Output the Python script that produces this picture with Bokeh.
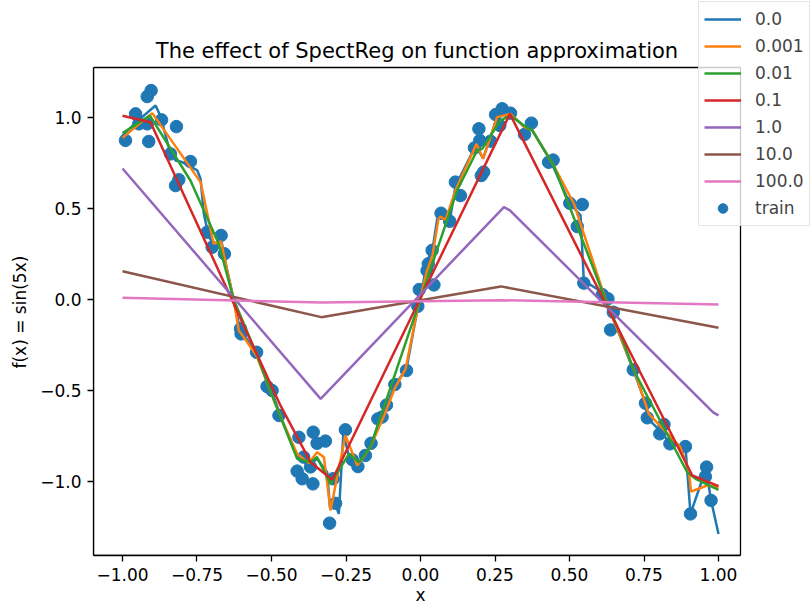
from bokeh.plotting import figure
from bokeh.models import Legend, LegendItem, FixedTicker, Range1d, BoxAnnotation, Label, Title
from bokeh.embed import file_html
from bokeh.resources import INLINE

# ---- data ----
train_x = [-0.99, -0.956, -0.945, -0.917, -0.917, -0.904, -0.912, -0.869, -0.839, -0.819,
           -0.811, -0.822, -0.772, -0.716, -0.699, -0.669, -0.658, -0.604, -0.602, -0.55,
           -0.515, -0.498, -0.475, -0.414, -0.408, -0.397, -0.392, -0.369, -0.361, -0.36,
           -0.347, -0.319, -0.305, -0.285, -0.293, -0.252, -0.229, -0.21, -0.185, -0.166,
           -0.143, -0.129, -0.114, -0.086, -0.047, -0.009, -0.004, 0.022, 0.026, 0.039,
           0.045, 0.069, 0.098, 0.117, 0.134, 0.181, 0.196, 0.199, 0.204, 0.212,
           0.235, 0.252, 0.266, 0.274, 0.302, 0.349, 0.372, 0.43, 0.445, 0.501,
           0.526, 0.543, 0.548, 0.61, 0.629, 0.638, 0.647, 0.714, 0.755, 0.761,
           0.803, 0.817, 0.837, 0.889, 0.906, 0.956, 0.96, 0.975]
train_y = [0.874, 1.02, 0.965, 0.965, 1.115, 1.148, 0.868, 0.987, 0.80, 0.95,
           0.658, 0.626, 0.758, 0.37, 0.287, 0.352, 0.251, -0.16, -0.189, -0.29,
           -0.478, -0.50, -0.637, -0.943, -0.757, -0.985, -0.866, -0.92, -1.013, -0.729,
           -0.79, -0.778, -1.229, -1.12, -0.985, -0.716, -0.88, -0.918, -0.857, -0.79,
           -0.656, -0.646, -0.58, -0.467, -0.39, -0.037, 0.055, 0.159, 0.196, 0.27,
           0.08, 0.474, 0.43, 0.645, 0.571, 0.833, 0.938, 0.874, 0.681, 0.70,
           0.87, 1.016, 0.956, 1.048, 1.024, 0.907, 0.969, 0.754, 0.766, 0.529,
           0.401, 0.522, 0.09, 0.027, 0.004, -0.167, -0.07, -0.386, -0.57, -0.65,
           -0.738, -0.687, -0.793, -0.808, -1.178, -0.973, -0.921, -1.104]

reg0_x = [-1.0, -0.95, -0.889, -0.872, -0.845, -0.822, -0.80, -0.749, -0.738, -0.727,
          -0.71, -0.69, -0.669, -0.65, -0.627, -0.605, -0.59, -0.55, -0.50, -0.464,
          -0.414, -0.375, -0.347, -0.313, -0.304, -0.291, -0.274, -0.259, -0.235, -0.212,
          -0.19, -0.162, -0.134, -0.112, -0.086, -0.047, -0.009, 0.006, 0.022, 0.04,
          0.056, 0.067, 0.084, 0.098, 0.117, 0.185, 0.21, 0.257, 0.29, 0.302,
          0.347, 0.375, 0.436, 0.50, 0.537, 0.548, 0.61, 0.638, 0.649, 0.714,
          0.755, 0.761, 0.803, 0.837, 0.889, 0.906, 0.958, 0.975, 1.0]
reg0_y = [0.90, 0.98, 1.066, 1.005, 0.837, 0.764, 0.755, 0.709, 0.663, 0.471,
          0.342, 0.30, 0.33, 0.17, 0.0, -0.17, -0.20, -0.30, -0.50, -0.665,
          -0.866, -0.912, -0.875, -0.949, -1.141, -1.105, -1.178, -0.738, -0.894, -0.912,
          -0.857, -0.784, -0.647, -0.573, -0.47, -0.381, -0.042, 0.059, 0.214, 0.27,
          0.443, 0.462, 0.438, 0.43, 0.62, 0.846, 0.775, 1.0, 1.03, 1.02,
          0.95, 0.93, 0.764, 0.53, 0.462, 0.104, 0.04, -0.06, -0.115, -0.386,
          -0.57, -0.65, -0.72, -0.79, -0.808, -1.178, -0.93, -1.104, -1.288]

reg0001_x = [-1.0, -0.90, -0.738, -0.694, -0.669, -0.649, -0.627, -0.61, -0.593, -0.55,
             -0.50, -0.46, -0.414, -0.375, -0.347, -0.324, -0.302, -0.252, -0.212, -0.168,
             -0.12, -0.087, -0.05, -0.011, 0.022, 0.04, 0.06, 0.067, 0.084, 0.12,
             0.188, 0.21, 0.257, 0.302, 0.347, 0.375, 0.447, 0.515, 0.537, 0.626,
             0.721, 0.766, 0.872, 0.90, 0.908, 0.962, 1.0]
reg0001_y = [0.888, 1.024, 0.645, 0.306, 0.319, 0.16, 0.0, -0.17, -0.207, -0.31,
             -0.52, -0.68, -0.848, -0.899, -0.839, -0.866, -1.159, -0.747, -0.912, -0.81,
             -0.63, -0.49, -0.381, -0.06, 0.159, 0.24, 0.44, 0.456, 0.438, 0.61,
             0.855, 0.773, 1.002, 1.02, 0.95, 0.929, 0.736, 0.526, 0.416, -0.024,
             -0.408, -0.628, -0.811, -0.94, -1.055, -1.022, -1.031]

reg001_x = [-1.0, -0.908, -0.772, -0.677, -0.627, -0.55, -0.50, -0.414, -0.369, -0.347,
            -0.302, -0.24, -0.207, -0.168, 0.123, 0.19, 0.207, 0.268, 0.302, 0.347,
            0.375, 0.447, 0.626, 0.671, 0.716, 0.895, 0.923, 1.0]
reg001_y = [0.914, 1.01, 0.654, 0.306, 0.0, -0.30, -0.52, -0.875, -0.894, -0.866,
            -1.013, -0.848, -0.894, -0.81, 0.60, 0.819, 0.828, 0.984, 1.011, 0.956,
            0.929, 0.736, -0.024, -0.188, -0.39, -0.949, -0.985, -1.046]

reg01_x = [-1.0, -0.906, -0.47, -0.369, -0.296, 0.30, 0.912, 1.0]
reg01_y = [1.01, 0.974, -0.582, -0.894, -0.99, 1.02, -0.967, -1.025]

reg1_x = [-1.0, -0.335, 0.28, 0.30, 0.982, 1.0]
reg1_y = [0.72, -0.546, 0.508, 0.49, -0.62, -0.637]

reg10_x = [-1.0, -0.333, 0.27, 1.0]
reg10_y = [0.155, -0.097, 0.072, -0.155]

reg100_x = [-1.0, -0.33, 0.27, 1.0]
reg100_y = [0.01, -0.017, -0.004, -0.027]

series_labels = ["0.0", "0.001", "0.01", "0.1", "1.0", "10.0", "100.0"]
series_colors = ["#1f77b4", "#ff7f0e", "#2ca02c", "#d62728", "#9467bd", "#8c564b", "#e377c2"]
series_x = [reg0_x, reg0001_x, reg001_x, reg01_x, reg1_x, reg10_x, reg100_x]
series_y = [reg0_y, reg0001_y, reg001_y, reg01_y, reg1_y, reg10_y, reg100_y]

x_ticks = [-1.0, -0.75, -0.5, -0.25, 0.0, 0.25, 0.5, 0.75, 1.0]
x_tick_labels = ["\u22121.00", "\u22120.75", "\u22120.50", "\u22120.25", "0.00", "0.25", "0.50", "0.75", "1.00"]
y_ticks = [-1.0, -0.5, 0.0, 0.5, 1.0]
y_tick_labels = ["\u22121.0", "\u22120.5", "0.0", "0.5", "1.0"]

title_text = "The effect of SpectReg on function approximation"
x_label = "x"
y_label = "f(x) = sin(5x)"

# axes box limits (data units) as in the reference
box_x = (-1.0973, 1.0738)
box_y = (-1.4066, 1.2747)

FONT = "DejaVu Sans"

# ---- layout (pixels) ----
W, H = 810, 608
LEFT, BOTTOM = 93, 53
FRAME_W, FRAME_H = W - LEFT, H - BOTTOM
BOX_W_PX = 647          # width of the axes box
BOX_TOP_PX = 67         # distance of the axes box from the canvas top
ppu_x = BOX_W_PX / (box_x[1] - box_x[0])
ppu_y = (FRAME_H - BOX_TOP_PX) / (box_y[1] - box_y[0])
x_end = box_x[0] + FRAME_W / ppu_x
y_end = box_y[1] + BOX_TOP_PX / ppu_y

p = figure(width=W, height=H, output_backend="svg", toolbar_location=None,
           x_range=Range1d(box_x[0], x_end), y_range=Range1d(box_y[0], y_end),
           min_border_left=LEFT, min_border_right=0, min_border_top=0, min_border_bottom=BOTTOM)

p.grid.visible = False
p.outline_line_color = None

for ax in (p.xaxis[0], p.yaxis[0]):
    ax.major_label_text_font = FONT
    ax.major_label_text_font_size = "17px"
    ax.major_label_text_color = "black"
    ax.major_tick_in = 0
    ax.major_tick_out = 6
    ax.minor_tick_in = 0
    ax.minor_tick_out = 0
    ax.axis_line_width = 1.3
    ax.major_tick_line_width = 1.3
    ax.major_label_standoff = 6

p.xaxis[0].bounds = box_x
p.yaxis[0].bounds = box_y
p.xaxis[0].ticker = FixedTicker(ticks=x_ticks)
p.xaxis[0].major_label_overrides = {t: l for t, l in zip(x_ticks, x_tick_labels)}
p.yaxis[0].ticker = FixedTicker(ticks=y_ticks)
p.yaxis[0].major_label_overrides = {t: l for t, l in zip(y_ticks, y_tick_labels)}

# axis titles centred on the axes box (not on the wider frame)
xt = Title(text=x_label, align="left", offset=322, standoff=0, vertical_align="middle",
           text_font=FONT, text_font_size="17px", text_font_style="normal", text_color="black")
p.add_layout(xt, "below")
yt = Title(text=y_label, align="left", offset=187, standoff=13, vertical_align="middle",
           text_font=FONT, text_font_size="17px", text_font_style="normal", text_color="black")
p.add_layout(yt, "left")

# axes box (all four spines)
p.add_layout(BoxAnnotation(left=box_x[0], right=box_x[1], bottom=box_y[0], top=box_y[1],
                           fill_alpha=0, line_color="black", line_width=1.3, line_alpha=1.0))

# title above the axes box
p.add_layout(Label(x=(box_x[0] + box_x[1]) / 2, y=box_y[1] + 17 / ppu_y, text=title_text,
                   text_align="center", text_baseline="alphabetic", text_font=FONT,
                   text_font_size="21px", text_color="black"))

sc = p.scatter(train_x, train_y, size=12.5, color="#1f77b4", line_color="#1f77b4")

items = []
for lab, col, xs, ys in zip(series_labels, series_colors, series_x, series_y):
    r = p.line(xs, ys, line_color=col, line_width=2.5)
    items.append(LegendItem(label=lab, renderers=[r]))
items.append(LegendItem(label="train", renderers=[sc]))

legend = Legend(items=items, location=(605, FRAME_H - 226))
legend.label_text_font = FONT
legend.label_text_font_size = "17px"
legend.glyph_width = 37
legend.glyph_height = 24
legend.label_height = 24
legend.spacing = 3
legend.padding = 5
legend.margin = 0
legend.label_standoff = 14
legend.border_line_color = "#cccccc"
legend.border_line_width = 1
legend.background_fill_color = "white"
legend.background_fill_alpha = 0.8
p.add_layout(legend, "center")

open("out.html", "w").write(file_html(p, INLINE))
